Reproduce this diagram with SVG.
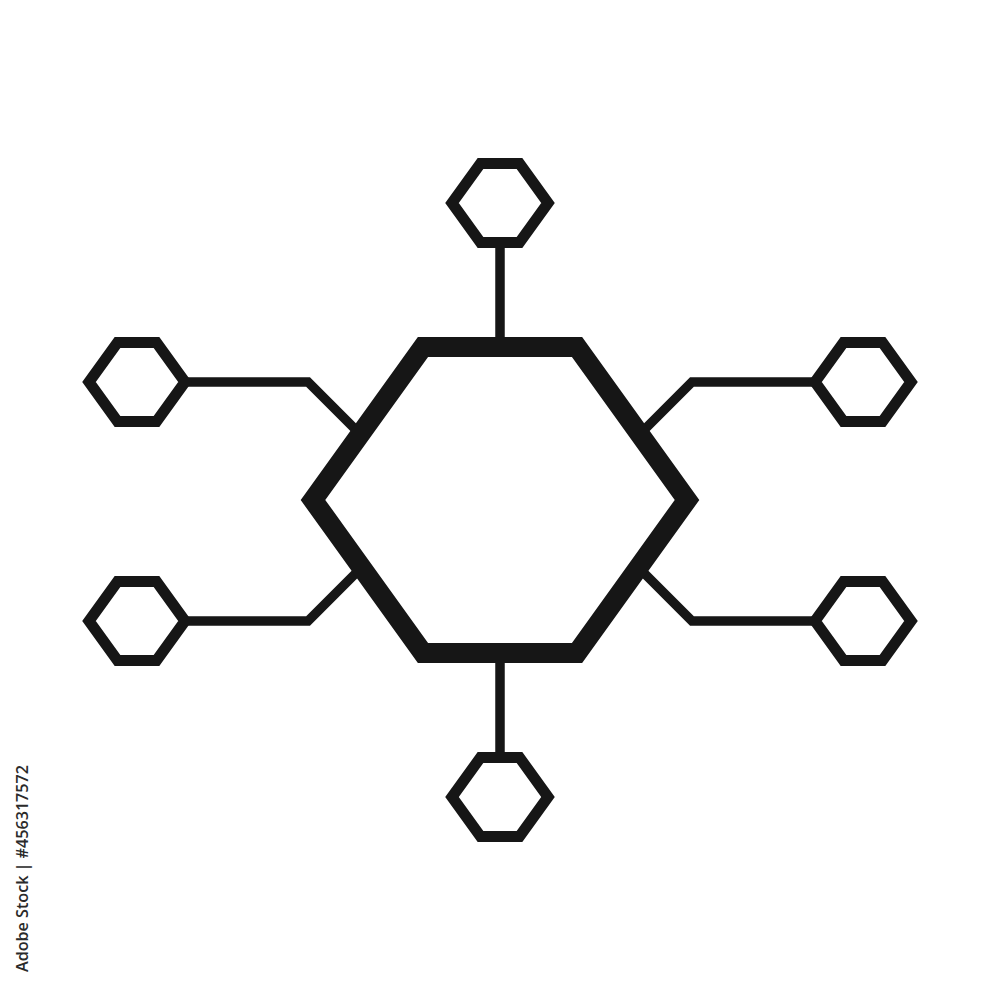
<svg xmlns="http://www.w3.org/2000/svg" xmlns:xlink="http://www.w3.org/1999/xlink" width="1000" height="1000" viewBox="0 0 1000 1000">
  <style>
    .hex { fill: none; stroke: #161616; stroke-linejoin: miter; }
    .small { stroke-width: 11; }
    .big { stroke-width: 20; }
    .conn { fill: none; stroke: #161616; stroke-width: 9.5; stroke-linejoin: miter; }
    .wm { font-family: "Open Sans", "Noto Sans", "Liberation Sans", sans-serif; font-size: 16px; font-weight: 600; fill: #2a2a2a; }
  </style>
  <defs>
    <path id="smallHex" d="M -48 0 L -19.5 -39.5 L 19.5 -39.5 L 48 0 L 19.5 39.5 L -19.5 39.5 Z"/>
  </defs>
  <rect x="0" y="0" width="1000" height="1000" fill="#ffffff"/>
  <g id="connectors">
    <path class="conn" d="M 500 243 L 500 347"/>
    <path class="conn" d="M 500 653 L 500 758"/>
    <path class="conn" d="M 185 382 H 308 L 361 435"/>
    <path class="conn" d="M 815 382 H 692 L 639 435"/>
    <path class="conn" d="M 185 621 H 308 L 361.5 567.5"/>
    <path class="conn" d="M 815 621 H 692 L 638.5 567.5"/>
  </g>
  <g id="center">
    <path class="hex big" d="M 313 500 L 423 347 L 577 347 L 687 500 L 577 653 L 423 653 Z"/>
  </g>
  <g id="node-top"><use xlink:href="#smallHex" href="#smallHex" class="hex small" transform="translate(500,203)"/></g>
  <g id="node-bottom"><use xlink:href="#smallHex" href="#smallHex" class="hex small" transform="translate(500,797)"/></g>
  <g id="node-left-top"><use xlink:href="#smallHex" href="#smallHex" class="hex small" transform="translate(137,382)"/></g>
  <g id="node-right-top"><use xlink:href="#smallHex" href="#smallHex" class="hex small" transform="translate(863,382)"/></g>
  <g id="node-left-bottom"><use xlink:href="#smallHex" href="#smallHex" class="hex small" transform="translate(137,621)"/></g>
  <g id="node-right-bottom"><use xlink:href="#smallHex" href="#smallHex" class="hex small" transform="translate(863,621)"/></g>
  <text class="wm" transform="translate(28,972) rotate(-90)" x="0" y="0" textLength="207" lengthAdjust="spacingAndGlyphs">Adobe Stock | #456317572</text>
</svg>
